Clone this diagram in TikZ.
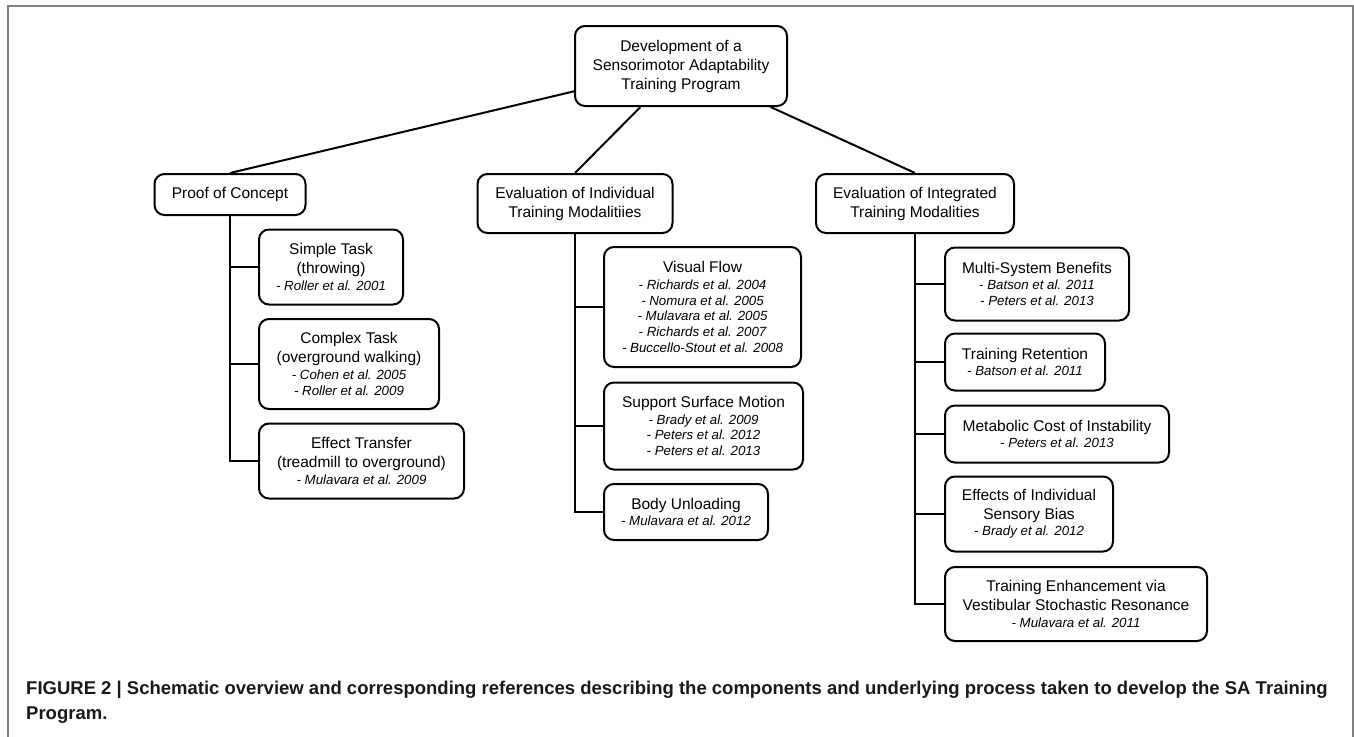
\documentclass[tikz,border=0pt]{standalone}
\usepackage{fontspec}
\setmainfont{Liberation Sans}
\newcommand\refl[1]{{\fontsize{13.3}{16}\selectfont\itshape #1}}
\tikzset{
  box/.style={draw, line width=2pt, rounded corners=10pt, align=center, inner sep=0pt,
    font=\fontsize{15.5}{19}\selectfont},
  conn/.style={line width=2pt},
  frameline/.style={draw=black!50, line width=1.6pt},
  captext/.style={anchor=base west, inner sep=0pt, font=\fontsize{18.5}{22}\selectfont\bfseries, text=black!90}
}
\begin{document}
\begin{tikzpicture}[x=1pt,y=-1pt]
\useasboundingbox (0,0) rectangle (1354,736);
\draw[frameline] (8,745) -- (8,6) -- (1353,6) -- (1353,745);

% level 0
\node[box, minimum width=212pt, minimum height=80pt] (top) at (681,66)
  {Development of a\\Sensorimotor Adaptability\\Training Program};

% level 1
\node[box, minimum width=151pt, minimum height=41pt] (poc) at (230,194.5) {Proof of Concept};
\node[box, minimum width=195pt, minimum height=59pt] (eind) at (575,203.5)
  {Evaluation of Individual\\Training Modalitiies};
\node[box, minimum width=198pt, minimum height=59pt] (eint) at (915,203.5)
  {Evaluation of Integrated\\Training Modalities};

% left column
\node[box, minimum width=144pt, minimum height=75pt] (simple) at (331,267)
  {Simple Task\\(throwing)\\[-2.5pt]\refl{- Roller et al. 2001}};
\node[box, minimum width=180pt, minimum height=90pt] (complex) at (349,364)
  {Complex Task\\(overground walking)\\[-2.5pt]\refl{- Cohen et al. 2005}\\[-3.3pt]\refl{- Roller et al. 2009}};
\node[box, minimum width=205pt, minimum height=75pt] (effect) at (361.5,461)
  {Effect Transfer\\(treadmill to overground)\\[-2.5pt]\refl{- Mulavara et al. 2009}};

% middle column
\node[box, minimum width=197pt, minimum height=120pt] (visual) at (702.5,307)
  {Visual Flow\\[-2.5pt]\refl{- Richards et al. 2004}\\[-3.3pt]\refl{- Nomura et al. 2005}\\[-3.3pt]\refl{- Mulavara et al. 2005}\\[-3.3pt]\refl{- Richards et al. 2007}\\[-3.3pt]\refl{- Buccello-Stout et al. 2008}};
\node[box, minimum width=199pt, minimum height=87pt] (support) at (703.5,426)
  {Support Surface Motion\\[-2.5pt]\refl{- Brady et al. 2009}\\[-3.3pt]\refl{- Peters et al. 2012}\\[-3.3pt]\refl{- Peters et al. 2013}};
\node[box, minimum width=164pt, minimum height=56pt] (body) at (686,512)
  {Body Unloading\\[-2.5pt]\refl{- Mulavara et al. 2012}};

% right column
\node[box, minimum width=184pt, minimum height=73pt] (multi) at (1037,284)
  {Multi-System Benefits\\[-2.5pt]\refl{- Batson et al. 2011}\\[-3.3pt]\refl{- Peters et al. 2013}};
\node[box, minimum width=160pt, minimum height=57pt] (retention) at (1025,362)
  {Training Retention\\[-2.5pt]\refl{- Batson et al. 2011}};
\node[box, minimum width=224pt, minimum height=57pt] (metabolic) at (1057,434)
  {Metabolic Cost of Instability\\[-2.5pt]\refl{- Peters et al. 2013}};
\node[box, minimum width=168pt, minimum height=75pt] (effects) at (1029,514)
  {Effects of Individual\\Sensory Bias\\[-2.5pt]\refl{- Brady et al. 2012}};
\node[box, minimum width=262pt, minimum height=74pt] (enhance) at (1076,604)
  {Training Enhancement via\\Vestibular Stochastic Resonance\\[-2.5pt]\refl{- Mulavara et al. 2011}};

% connectors
\draw[conn] (top) -- (poc.north);
\draw[conn] (top) -- (eind.north);
\draw[conn] (top) -- (eint.north);

\draw[conn, line join=miter] (poc.south) |- (effect.west);
\foreach \c in {simple,complex} \draw[conn] (poc.south |- \c.west) -- (\c.west);
\draw[conn, line join=miter] (eind.south) |- (body.west);
\foreach \c in {visual,support} \draw[conn] (eind.south |- \c.west) -- (\c.west);
\draw[conn, line join=miter] (eint.south) |- (enhance.west);
\foreach \c in {multi,retention,metabolic,effects} \draw[conn] (eint.south |- \c.west) -- (\c.west);

% caption
\node[captext] (cap1) at (26,694)
  {FIGURE 2 | Schematic overview and corresponding references describing the components and underlying process taken to develop the SA Training};
\node[captext] (cap2) at (26,719) {Program.};
\end{tikzpicture}
\end{document}
